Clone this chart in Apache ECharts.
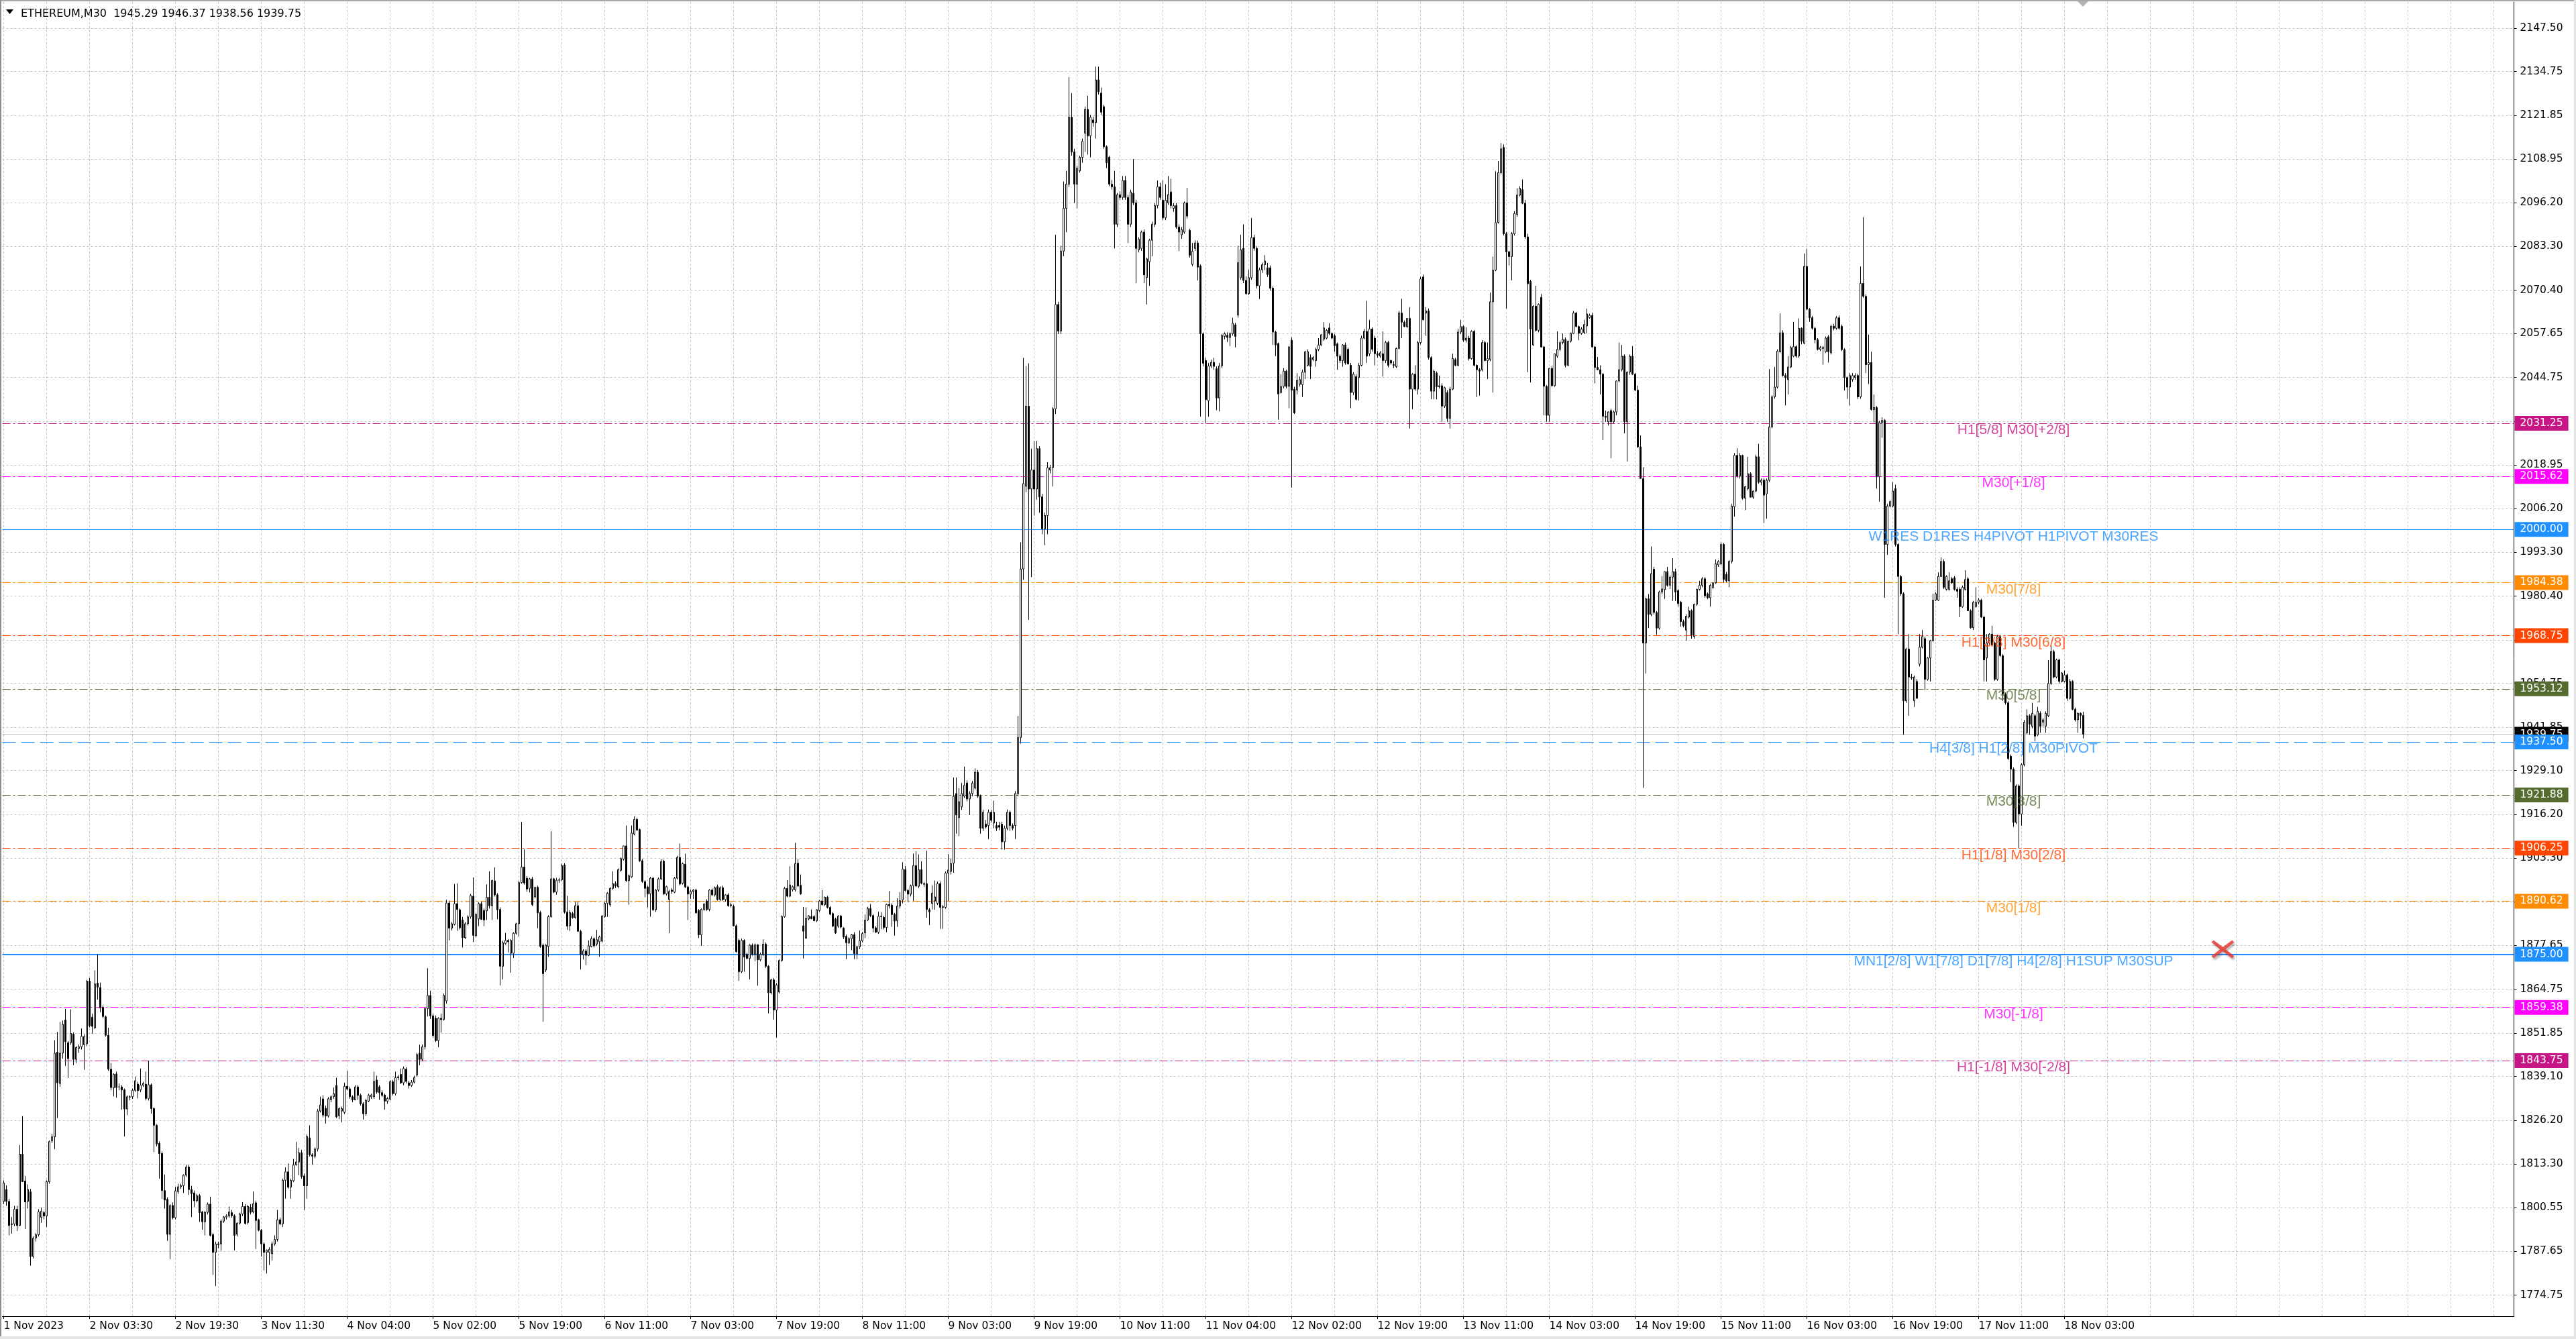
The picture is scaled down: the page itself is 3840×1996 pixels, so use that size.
<!DOCTYPE html>
<html><head><meta charset="utf-8">
<script src="https://cdn.jsdelivr.net/npm/echarts@6.0.0/dist/echarts.min.js"></script>
<style>html,body{margin:0;padding:0;background:#fff;overflow:hidden}#c{width:3840px;height:1996px}</style>
</head><body><div id="c"></div>
<script>
// ---- DATA: M30 bars as [open, high, low, close] ----
const seg1 = [
[1802.3,1808.5,1801.5,1807.7],[1805.8,1807,1801,1802.3],[1802.3,1803,1792.3,1795.2],[1795.5,1797.7,1792.8,1795.7],[1795.7,1801,1795,1800],
[1800,1801,1793.6,1795.2],[1795.2,1818.9,1795,1816.2],[1816.2,1827.4,1808,1808.1],[1808.3,1809.8,1794.2,1802.1],[1802.3,1807.3,1800.2,1805.8],
[1805.1,1806,1783.4,1786.1],[1786.1,1792,1785.5,1791.5],[1791.5,1793,1790.5,1792.5],[1792.5,1800,1792,1799.2],[1797.6,1800.5,1796,1799.4],
[1799,1799.5,1797,1798],[1798,1808.5,1794.8,1808.1],[1808.1,1820.2,1807.5,1819.9],[1820.1,1822.2,1819.5,1821.3],[1821.3,1849.7,1817.7,1845.9],
[1846.2,1852.2,1826.8,1837.2],[1837,1855.1,1836,1845.9],[1845.9,1855.5,1844.3,1854.4],[1855.7,1859,1842.2,1849.3],[1849,1849.5,1838.6,1844.3],
[1849,1858.8,1848.4,1851.7],[1851.5,1852,1842.4,1844.1],[1844.1,1848,1843,1847.6],[1847.3,1848.5,1846,1847.8],[1847.8,1853.2,1847,1850.9],
[1848.4,1851.5,1841,1850.8],[1848.7,1867.5,1848,1867.1],[1867.1,1868,1853.5,1854],[1856.5,1857.5,1851.7,1853.8],[1853.4,1870.3,1853,1866.3],
[1866.5,1875,1861.7,1865.3],[1865.2,1866.7,1858,1859.2],[1859.4,1860,1856.2,1856.7],[1856.6,1857,1850.8,1851.2],[1851.2,1853.4,1840.7,1841.2],
[1841.2,1843,1835,1835.8],[1835.7,1840,1833.2,1839.7],[1839.8,1840.5,1832.8,1835.8],[1836,1837,1835,1836],[1836,1836.5,1829.3,1835.1],
[1835.1,1835.5,1821.4,1829.5],[1829.5,1833.5,1827.7,1833.1],[1833.1,1833.5,1832,1833],[1833.1,1835.5,1832.5,1835],[1835,1839,1834.5,1837.8],
[1836.8,1837.5,1832.6,1834.9],[1835.1,1841.4,1834.5,1836.5],[1836.5,1837.5,1836,1837],[1836.8,1840.5,1832,1832.6],[1832.6,1843.7,1832,1836.6],
[1836.6,1837,1828.1,1829.6],[1829.6,1830,1816.8,1824.7],[1824.7,1825,1818.5,1819.2],[1819.4,1820,1809,1816.4],[1816.4,1817,1803.1,1805.5],
[1805.5,1810.2,1800.2,1802.7],[1802.9,1803.5,1790.7,1792.6],[1792.6,1801.5,1785.3,1801.1],[1801.1,1802,1797,1797.5],[1797.5,1806.5,1797,1805.4],
[1805.2,1807.5,1804.5,1806.6],[1806.6,1807.5,1806,1806.9],[1806.9,1810.3,1804.8,1810],[1810,1813.1,1809.5,1812.4],[1812.4,1813,1804.2,1805.8],
[1805.8,1806.9,1797.7,1804.6],[1804.8,1805.5,1800.6,1802.5],[1802.5,1804.5,1802,1804],[1804,1804.5,1796.3,1799],[1799.2,1799.5,1794,1796.3],
[1796.3,1799.5,1792.3,1799.1],[1799.1,1802,1798.5,1801.5],[1801.5,1803.7,1792,1792.3],[1792.5,1793,1780.7,1787.3],[1787.3,1790.5,1777.4,1789.8],
[1789.8,1790.5,1788.5,1789.6],[1789.8,1797,1787.8,1796.5],[1796.5,1798,1796,1797.7],[1797.7,1798.5,1797,1798],[1798,1800.8,1797.5,1799.2],
[1799,1799.8,1797.5,1798.1],[1798.1,1798.5,1787.9,1792.3],[1792.6,1796.2,1792,1795.9],[1795.9,1799,1795.5,1798.6],[1798.6,1802.1,1798,1800.8],
[1800.8,1801.5,1795.5,1795.8],[1796.1,1801.3,1795.5,1800.8],[1800.6,1801.5,1798.5,1799.1],[1799.2,1805.2,1798.8,1801.6],[1801.9,1802.5,1788.3,1796.7],
[1796.9,1797.2,1793.5,1793.8],[1793.8,1794.2,1786.1,1789.8],[1789.8,1790.3,1782,1787.3],[1787.3,1788.2,1781.1,1787.9],[1787.3,1788.8,1783.6,1788.2],
[1786.9,1790.5,1784.9,1789.8],[1789.8,1792.3,1789.3,1791.1],[1791.1,1799.8,1790.5,1796.9],[1796.9,1797.5,1795.3,1795.7],[1795.7,1809,1794.8,1808.5],
[1808.5,1812.3,1803.1,1811],[1811,1813.5,1806,1806.5],[1806.5,1809,1803.1,1808.5],[1808.4,1814.8,1808,1813.1],[1813.1,1819.8,1812.8,1813.9],
[1813.9,1818,1810,1816.6],[1816.6,1817.5,1809,1809.6],[1809.8,1810.5,1799.8,1806.9],[1806.9,1822,1803.1,1821.4],[1821,1824.7,1815.5,1816],
[1816,1816.5,1813.1,1815.6],[1815.6,1818.2,1815,1817.7],[1817.7,1829.5,1817,1828.9],[1828.9,1833.1,1828.5,1830.7],[1832.5,1833.5,1827,1827.7],
[1829.7,1830.5,1825.2,1827.4],[1827.4,1833,1827,1832.5],[1832.2,1833.5,1831.5,1833.1],[1833.1,1835.8,1832.5,1834],[1836.4,1838.7,1826.8,1827.2],
[1827.5,1830,1826.5,1829.6],[1828.9,1830.2,1825.6,1829.6],[1828.5,1837.2,1828,1836.2],[1836.2,1840.7,1835,1835.4],[1835.4,1836,1832.5,1833.1],
[1833.1,1833.5,1831.5,1832.2],[1832.2,1836.5,1832,1836],[1836,1836.5,1832.2,1833.5],[1833.5,1834,1830.5,1831],[1831,1831.5,1826.4,1828.1],
[1828.1,1832.5,1827.5,1832],[1831.8,1834,1831.5,1833.5],[1833.1,1834,1832.5,1833.6],[1833.1,1840.5,1832.5,1837.6],[1838,1839.3,1834,1834.5],
[1836,1836.5,1832.2,1834.3],[1834.3,1835,1833,1833.5],[1833.6,1834,1829.3,1831.8],[1831.8,1833,1831,1832.6],[1832.4,1838,1832,1837.5],
[1837.5,1838,1833.5,1834],[1834,1840.5,1833.5,1838.7],[1838.7,1839.5,1838,1838.9],[1839.7,1841.4,1836.8,1837.2],[1837.2,1842,1836.5,1841.4],
[1841.2,1841.8,1837,1837.6],[1837.2,1837.8,1835.5,1836.4],[1836.4,1838,1836,1837.4],[1837.4,1839.3,1837,1838.7],[1839.5,1846,1839,1845.5],
[1845.9,1848.4,1842.4,1844.1],[1844.1,1848.5,1843.5,1847.8],[1847.8,1859.5,1847,1859],[1859,1870.9,1856.7,1862.9]
];
const seg2 = [
[1862.9,1864.3,1856,1856.9],[1856.9,1857.5,1850.5,1851.1],[1856.2,1857,1849.2,1849.6],[1849.6,1856.5,1847.7,1856.2],[1856.2,1857.5,1852,1855.8],
[1855.8,1863.5,1855.5,1862.9],[1861.3,1891,1860.5,1890.1],[1890.1,1890.8,1879.1,1882.7],[1882.7,1884.5,1882,1884],[1883.8,1895.7,1883.5,1889.9],
[1889.9,1895.9,1881.9,1888.2],[1888.1,1888.5,1882.3,1882.8],[1885.1,1886,1877,1879.9],[1879.9,1884.5,1879.5,1884],[1884,1886.5,1883.5,1886],
[1886.1,1892.8,1885.5,1892.3],[1892.1,1897.6,1878.6,1880.6],[1880.5,1887,1880,1886.8],[1885.4,1890.3,1883.3,1889.9],[1889.9,1890.5,1885.1,1885.3],
[1887.9,1888.5,1883.3,1885.1],[1887.8,1895.6,1885.1,1891.8],[1891.8,1899.4,1888.5,1889.3],[1889.3,1897,1885.1,1896.7],[1896.6,1900.6,1892,1892.5],
[1892.5,1893,1885.3,1888.1],[1888.2,1888.8,1865.9,1871.5],[1871.5,1879,1867.6,1878.4],[1878.2,1881.3,1877.8,1879.1],[1879.1,1879.5,1875.6,1878.7],
[1875.3,1879.5,1869.6,1879.1],[1875.3,1881.5,1873.9,1881.2],[1881.2,1884.3,1880.8,1884],[1884,1896.5,1880.3,1896.1],[1896.1,1914,1895.8,1900.7],
[1900.7,1905.9,1895.5,1896],[1897.4,1898,1893.4,1894.2],[1894.4,1897.5,1893.2,1897.2],[1897.2,1897.8,1889.2,1889.6],[1891.9,1894.9,1891.5,1894.7],
[1894.7,1895.2,1882.7,1887.2],[1887.3,1887.8,1876.9,1877.3],[1877.7,1878.2,1855.2,1869.3],[1870.4,1878,1869.8,1877.7],[1877.3,1886.5,1874.3,1886.1],
[1886.1,1911.2,1885.8,1897.2],[1897.2,1897.5,1893,1893.3],[1893.3,1897.5,1892.5,1896.8],[1896.8,1897.5,1896,1896.9],[1896.9,1901.7,1896.5,1901.1],
[1901.3,1901.8,1887,1887.4],[1887.4,1892.2,1882.2,1883.3],[1883.4,1888,1881.9,1887.3],[1887,1887.5,1885.5,1885.8],[1885.8,1890.4,1885.5,1889.3],
[1889.3,1890.4,1881.6,1881.8],[1881.8,1882.2,1870.6,1875],[1874.9,1876.5,1873.5,1876],[1876,1876.5,1871.8,1874.7],[1874.7,1879.1,1874.5,1877.5],
[1877.3,1880.3,1877,1879.6],[1879.6,1880,1877,1877.5],[1878,1882.2,1877.5,1879.3],[1878.7,1880.5,1874.3,1880.1],[1878.9,1886.5,1878.5,1886.3],
[1886.1,1890.4,1885.8,1890],[1890,1893.3,1886,1893],[1889.6,1894.8,1889,1894.4],[1894.4,1899.4,1894,1895.8],[1895.8,1896.5,1894.5,1895.1],
[1894.9,1900.3,1894.5,1899.9],[1899.7,1903.5,1899.3,1903.2],[1903,1907,1902.6,1906.9],[1906.9,1912.9,1896.3,1896.7],[1896.7,1898.5,1889.6,1898.1],
[1897.8,1912.9,1897.5,1910.7],[1910.4,1915.6,1910,1914.7],[1914.7,1915.2,1911.3,1911.6],[1911.7,1912,1902.2,1902.5],[1902.5,1903,1896,1896.4],
[1896.4,1896.8,1891.8,1894.4],[1894.8,1895.2,1888.8,1892.8],[1892.8,1897.8,1886.1,1897.4],[1897.4,1897.8,1887.8,1888.1],[1888.1,1894.2,1887.5,1893.9],
[1893.9,1897.6,1893.5,1897.2],[1897.2,1903,1896.8,1902.3],[1902.4,1902.8,1892.5,1892.8],[1892.8,1895.2,1892.3,1894.9],[1891.1,1894,1881.2,1893.5],
[1893.9,1894.5,1892.8,1893.5],[1893.3,1897.8,1893,1897.4],[1897.4,1904,1897,1903.5],[1903.5,1907.6,1895.3,1895.7],[1895.9,1902,1895.5,1901.7],
[1901.5,1904.6,1894.5,1894.8],[1894.8,1895.2,1885.1,1892.7],[1892.7,1894,1891.3,1893.5],[1893.5,1894.2,1891.3,1893.9],[1893.9,1894.3,1887,1887.2],
[1887.9,1888.3,1879.8,1880.7],[1880.7,1888.5,1877.5,1888.2],[1888.2,1890,1887.8,1889.8],[1890.7,1891.2,1887.8,1888.2],[1888.2,1894.2,1887.7,1893.9],
[1893.9,1894.4,1892.2,1892.5],[1892.5,1895,1892,1894.6],[1894.9,1895.5,1890.8,1891.1],[1891.1,1895,1890.7,1894.6],[1894.6,1895.2,1890.8,1891.1],
[1891.1,1892.7,1890.5,1892.5],[1892.5,1893,1889,1889.3],[1889.3,1890.2,1888.8,1889.6],[1889.1,1889.6,1883.2,1883.4],[1883.4,1883.8,1875.5,1875.8],
[1879.1,1879.6,1867.2,1869.9],[1869.9,1879.6,1869.5,1879.1],[1879.1,1879.4,1869.9,1874.2],[1875,1875.5,1873.5,1873.8],[1873.8,1878,1867.6,1877.7],
[1877.7,1878.2,1874.6,1875],[1875,1878.2,1873,1877.8],[1877.8,1878,1865.8,1873.4],[1873.4,1875.5,1873,1875],[1874.9,1879.4,1874.5,1878],
[1878,1878.5,1871,1871.5],[1871.5,1871.8,1857.6,1863.7],[1863.7,1867.8,1863.2,1867.5],[1867.5,1868,1855.8,1858.6],[1858.6,1866.5,1850.5,1866],
[1863.9,1873.5,1863.5,1873.2],[1873.2,1886.5,1872.8,1886.1],[1886.1,1894.8,1885.8,1894.4],[1894.4,1896.8,1891.8,1892.1],[1892.1,1900.9,1891.8,1895.4],
[1894,1895.3,1893.5,1894.9],[1894,1907.8,1893.5,1901.7],[1901.8,1903,1894.8,1895.1],[1895.3,1898.5,1892.5,1892.8],[1883.4,1888.9,1873.8,1881.8],
[1879.8,1888.8,1879.5,1885.6],[1885.4,1886.5,1885,1886.3],[1886.1,1888.2,1885.3,1885.5],[1886.1,1886.5,1884.7,1884.9],[1884.9,1888.3,1884.5,1888.1],
[1887.9,1891,1887.5,1890.7],[1890.7,1893.9,1889.3,1889.6],[1889.6,1892,1889.2,1891.8],[1891.8,1892.2,1888.5,1888.8],[1888.8,1889.2,1886.5,1886.8],
[1887,1887.4,1883,1883.3],[1885.4,1885.8,1881,1881.3],[1883.3,1886.5,1882.8,1886.3],[1886.3,1886.6,1882.6,1883],[1882.7,1883,1879.5,1880.1]
];
const seg3 = [
[1880.3,1880.8,1873.6,1878.4],[1878.4,1880,1878,1879.6],[1879.6,1881,1876.2,1880.8],[1880.8,1881.5,1873.6,1875.2],[1875.2,1877.5,1873.6,1877.2],
[1877.2,1882,1876.5,1879],[1879,1881.6,1878.5,1881.1],[1881.3,1886.7,1879.8,1885.1],[1885.1,1889,1884.8,1888.5],[1888.5,1889.8,1886,1886.4],
[1886.4,1886.8,1881.5,1882.7],[1882.8,1883.3,1881.3,1881.5],[1881.5,1887.5,1881,1886.2],[1886.2,1887.4,1882.4,1886.1],[1885.9,1886.3,1882.3,1882.9],
[1882.9,1889.9,1881.5,1889.7],[1889.7,1893.6,1888.5,1889.3],[1889.5,1890,1883.1,1886.7],[1886.7,1887.2,1880.5,1884.8],[1884.9,1891.5,1883.1,1889.2],
[1889.2,1893.3,1888.5,1890.8],[1891,1902.1,1890,1900.1],[1899.9,1901,1893.5,1893.8],[1893.8,1894.2,1890.4,1892.7],[1892.7,1895.5,1892,1895.2],
[1895.2,1904.6,1890.7,1901.1],[1901.1,1905.3,1894.8,1895.1],[1895,1904.4,1894.5,1899.9],[1899.9,1902.4,1895.6,1895.9],[1895.8,1896.2,1894.8,1895.6],
[1895.8,1905.5,1885.8,1888.2],[1888.1,1888.6,1883.6,1887.5],[1890,1895.3,1888.2,1893],[1890.7,1896.7,1888.1,1891.9],[1890,1896.4,1889.5,1895.8],
[1895.8,1896.4,1882.5,1888.8],[1888.8,1889.5,1882.5,1889],[1888.8,1899.4,1888.4,1898.9],[1898.9,1904.5,1890.7,1899.8],[1899.4,1903.2,1898.5,1901.7]
];
const seg4 = [
[1901.8,1927,1899,1921.5],[1922.3,1927,1910.5,1916],[1915.2,1923.9,1909.8,1919.9],[1918.4,1925.4,1917.5,1922.3],[1921.5,1930.2,1921,1924.7],
[1925.4,1926.2,1920,1920.7],[1920.7,1923,1916,1922.3],[1922.3,1926,1921.5,1925.4],[1923.9,1929.7,1923.5,1928.6],[1928.6,1929.2,1921,1921.5],
[1921.5,1922,1910.5,1912.1],[1912.1,1917.5,1911.3,1916.8],[1913.3,1914.5,1912,1912.4],[1912.9,1917.6,1908.9,1916.8],[1916.8,1917.5,1913.8,1914.4],
[1913.6,1920.2,1912.1,1916.8],[1912.9,1914,1911.3,1912.1],[1912.9,1914,1911.5,1912.4],[1913.3,1914,1905.8,1908.1],[1908.1,1912.8,1905.8,1912.1],
[1912.1,1917.6,1911.5,1916.8],[1916.8,1917.3,1911.3,1912.9],[1912.9,1913.5,1911.5,1912.1],[1912.9,1923,1908.9,1922.3],[1922.3,1945.1,1921.5,1938.8],
[1938.8,1996.2,1937,1988.4],[1988.4,2050.5,1985.2,2013.5],[2012.7,2048.1,2011,2036.3],[2036.3,2048.9,1973.4,2011.9],[2011.9,2023.8,1986,2017.5],
[2017.5,2026.1,2004.1,2011.9],[2011.9,2026.1,2008.8,2023.8],[2023.8,2024.5,2004.9,2009.6],[2009.6,2010.5,1998.6,2000.2],[2000.2,2005,1995.4,2004.1],
[2004.1,2019.8,1998.6,2018.2],[2017.5,2019,2016.5,2018.2],[2018.2,2036,2012.7,2035.5],[2035.5,2086.7,2034,2066.2],[2066.2,2067,2057.5,2058.4],
[2058.4,2083.5,2057.5,2081.9],[2081.9,2102.4,2080.4,2094.5],[2094.5,2105.5,2087.5,2101.6],[2101.6,2133.1,2100.8,2121.3],[2121.3,2128.4,2110,2111.1],
[2111.1,2112,2096.1,2101.6],[2101.6,2107,2094.5,2106.3],[2105.5,2110,2105,2109.5],[2109.5,2115,2107.9,2114.2],[2116.6,2124.4,2111.1,2123.6],
[2123.6,2127.6,2110.3,2115.8],[2115.8,2122,2109.5,2121.3],[2120.5,2121.5,2118.5,2119.7],[2119.7,2136.2,2115,2132.3],[2132.3,2136.2,2128,2128.8],
[2128.4,2130,2122,2122.8],[2124.4,2125,2112,2112.6],[2112.6,2113,2106.3,2107.9],[2109.5,2110,2101,2101.6],[2101.6,2102.8,2100,2100.8],
[2100.8,2105.5,2082.7,2089.8],[2089.8,2099,2089,2098.5],[2098.5,2099.5,2097,2097.7],[2097.7,2104,2097,2102.7],[2102.7,2104,2097,2097.7],
[2097.7,2098.5,2084.3,2089.8],[2089.8,2100,2089,2099.3],[2098.9,2109,2095.5,2096.1],[2096.1,2097,2072.5,2082.7],[2082.3,2086,2081.5,2085.4],
[2082.7,2088,2082,2087.5],[2087.5,2088.3,2072.5,2074.9],[2074.1,2080,2066.2,2079.6],[2078.8,2085.5,2071.7,2085.1],[2085.1,2090.6,2080.4,2089.8],
[2089.8,2096,2089,2095.3],[2095.3,2102.7,2094.5,2100.8],[2100.8,2102,2097,2097.7],[2096.9,2102.7,2091,2091.7],[2091.7,2101.6,2091,2096.9],
[2096.1,2104,2095.5,2098.5],[2099.3,2103.2,2094.5,2095.3],[2094.5,2096,2093.5,2095.3],[2095.3,2096,2088.5,2089],[2089,2089.8,2081.9,2087.5],
[2086.7,2089,2085.5,2088.2],[2087.5,2096.5,2087,2096.1],[2096.1,2100.5,2091.5,2092.2],[2088,2088.5,2080,2080.7],[2078,2084.3,2077.5,2081.9],
[2082.7,2085.1,2082,2084.3],[2084.3,2085,2073.3,2077.2],[2077.5,2078,2033.2,2057.6],[2057.6,2058,2048,2048.9],[2049.7,2050.5,2031.3,2038.2],
[2037.9,2049,2033.2,2048.1],[2048.1,2050,2047.5,2049.2],[2049.2,2050.5,2047,2048],[2047.3,2048,2035.1,2038.7],[2038.7,2049,2034.8,2048.1],
[2048.1,2057.5,2047.5,2057.1],[2056.8,2058,2056,2057.6],[2057.1,2058,2055.2,2056.5],[2056.5,2058,2054,2057.6],[2057.6,2062.3,2057,2060.7],
[2060.2,2060.8,2053.6,2056.8],[2063.1,2083.5,2062.3,2078.5],[2074.1,2086.7,2073.5,2082.3],[2082.7,2089.8,2072.5,2073.3],[2073.3,2074.5,2069,2069.4],
[2069.4,2076.4,2069,2074.1],[2074.1,2091.7,2073.5,2085.9],[2085.9,2086.7,2082,2082.7],[2082.7,2083.3,2070.9,2071.7],[2071.7,2077,2067.8,2076.4]
];
const seg5 = [
[2076.4,2078.5,2075.5,2077.9],[2077.9,2080.7,2076.3,2079],[2077,2078.5,2074.3,2075],[2077,2077.7,2070.3,2071],[2071,2071.5,2054.3,2058.1],
[2058.1,2058.5,2051,2054.3],[2054.7,2055,2032.3,2039.9],[2040.3,2045.7,2040,2042.1],[2042.1,2047.5,2041.5,2046.6],[2046.6,2047,2041.5,2042.1],
[2042.1,2054,2035.7,2053.7],[2055.7,2056.5,2012.3,2041],[2041.3,2042,2034,2034.3],[2041,2046,2039.7,2043.9],[2042.7,2045,2042,2044.1],
[2042.6,2047,2039,2046.3],[2046.3,2052.5,2044.3,2052.3],[2048.3,2053,2048,2052.3],[2050.6,2051.5,2044.3,2048],[2050,2051,2049.5,2050.6],
[2049.7,2053.5,2047.9,2053],[2053,2056.3,2052.5,2054.3],[2054.3,2057.5,2054,2057.3],[2056,2061,2055.5,2059.3],[2056.3,2059,2056,2058.6],
[2059.3,2060.7,2057.2,2057.7],[2057.7,2058,2056,2056.3],[2057,2057.5,2052.3,2054.1],[2054.6,2055,2047,2051],[2051,2051.5,2049,2049.7],
[2049.7,2054.5,2047.9,2054.3],[2054.3,2055,2048.5,2049],[2053,2053.5,2048.5,2048.7],[2048.3,2049,2035.7,2040.3],[2040.3,2046.3,2039.5,2045.7],
[2045,2045.7,2038,2038.3],[2044.7,2049,2038,2048.3],[2048.3,2057,2048,2056.3],[2056.3,2059,2056,2058.3],[2058.3,2067.3,2049,2051],
[2051.7,2061.7,2051,2059],[2059,2059.5,2052.3,2053],[2056.3,2057,2048.3,2051.7],[2051.7,2052.5,2050.5,2051.3],[2051,2052.5,2050.5,2052],
[2051.7,2058.3,2045,2049.7],[2049.7,2055.5,2049,2055],[2055,2055.5,2047.7,2048.3],[2049.7,2050,2048.5,2049],[2048.5,2049.5,2047.5,2048.3],
[2047.9,2053.5,2047.5,2053.3],[2053.3,2064.3,2053,2063.7],[2063.7,2067.9,2056.3,2061],[2061,2061.5,2059.5,2059.7],[2059.7,2062,2059.3,2062.1],
[2062.1,2065.4,2029.7,2041.3],[2041.3,2046,2035.4,2045.7],[2045.7,2048.3,2040.8,2041.3],[2041.3,2055.5,2039.7,2055],[2055,2074.3,2054.5,2073.7],
[2074.3,2075,2061.5,2061.7],[2063.7,2065.4,2057,2064.3],[2064.3,2065,2050,2050.6],[2050.6,2051,2038.3,2040.7],[2040.7,2047,2038.3,2046.6],
[2046,2046.5,2038.3,2042],[2042,2045.3,2041.5,2042.3],[2042.3,2043,2031.7,2036.3],[2036.3,2042,2035.8,2041.7],[2040.3,2041,2031.7,2032.7],
[2032.7,2042,2029.7,2041.3],[2041.3,2051.7,2041,2050.3],[2050,2050.5,2048,2048.3],[2048.3,2059,2048,2058.1],[2058.1,2061.7,2057.5,2059.7],
[2059.7,2060,2055.2,2055.7],[2055.7,2059.5,2055,2056.3],[2056.3,2057,2049.7,2050.3],[2050.3,2058.6,2050,2058.3],[2058.3,2058.7,2048,2048.3],
[2048.3,2048.6,2039,2047],[2047,2047.5,2039.4,2046.6],[2047,2055.7,2046.5,2055],[2055,2055.5,2049.5,2049.7],[2049.7,2055,2044.3,2050.3],
[2050,2069.7,2049.5,2067],[2067,2080.3,2040.3,2076.3],[2076.3,2105.4,2076,2090.3],[2090.3,2108.4,2090,2105],[2105,2113.7,2104.5,2112],
[2112.4,2113.3,2086.5,2087],[2087,2087.5,2065,2081.7],[2081.7,2082,2077.7,2080.3],[2080.3,2087.5,2073.3,2087],[2087,2093.7,2086.5,2093],
[2092.7,2100.4,2092,2098.4],[2098.4,2101,2098,2100.4],[2100,2103,2095.7,2096],[2096,2097,2085.5,2086.1],[2086.1,2087,2046.3,2072.3],
[2073,2073.5,2043.3,2059],[2054.3,2066,2054,2065.7],[2065.7,2071.7,2058.2,2058.6],[2058.6,2066.5,2058,2066.3],[2068.3,2069.3,2053.5,2053.7],
[2053.7,2054,2033.6,2042.1],[2042.1,2042.5,2031.7,2033.6],[2033.6,2047.5,2031.7,2047.4],[2047.4,2048,2042,2042.3],[2042.3,2051.5,2042,2051.7],
[2051,2058.3,2050.5,2053],[2053,2055.5,2052.5,2055],[2055,2057.7,2054.5,2055.9],[2055.9,2056.5,2047.7,2048.3],[2048.3,2055.6,2048,2055.4],
[2055.4,2058,2055,2057.7],[2057.7,2064.3,2057.5,2063.7],[2063.7,2064,2059.5,2059.7],[2059.7,2060,2055.7,2057.7],[2057.7,2059.5,2057.3,2059],
[2058,2061.7,2057.5,2060.3],[2059.9,2065,2057.7,2063.4],[2062.3,2063.5,2062,2063],[2063,2063.7,2053.5,2053.7],[2053.7,2054,2043,2047.7],
[2047.7,2050.8,2046.8,2047],[2047,2048.3,2039.7,2045.7],[2045.7,2046,2026.3,2033.3],[2033.3,2035,2031.7,2033],[2031.7,2034.7,2030.6,2034.6],
[2035,2035.5,2021,2031.7],[2031.7,2035,2031.3,2034.6],[2034.6,2043.8,2033.6,2043.7],[2043.7,2055,2043.3,2047],[2047,2054.3,2046.5,2051],
[2051,2051.5,2028.3,2031.7],[2031.7,2046.5,2020,2046.3],[2046.3,2051.5,2045.5,2051],[2051,2054,2045.5,2045.7],[2045.7,2046,2040.7,2041],
[2041,2042.3,2024,2024.3],[2024.3,2027.7,2015,2015],[2015,2018.3,1924,1966.6],[1966.6,1980,1957.6,1979.6],[1979.6,1981,1971,1975],
[1975,1995,1974.5,1987],[1988.3,1989,1975,1975.6],[1975.6,1976,1969,1971],[1971,1982,1970.5,1981.6],[1981.6,1986.3,1981,1982.5],
[1982.3,1987.7,1979.6,1987.6],[1987.6,1989,1983.2,1983.6],[1983.6,1986.5,1982.5,1986],[1986,1991.6,1979,1987.6],[1987.6,1988.5,1979,1981.6]
];
const seg6 = [
[1982,1982.5,1977.3,1978.2],[1978.6,1979,1971.4,1972.9],[1972.9,1973.5,1971.2,1971.7],[1970.4,1975,1967.3,1974.5],[1974.2,1977.3,1973.8,1976.1],
[1976.1,1976.5,1967.9,1968.9],[1968.5,1978.2,1967.9,1978],[1978,1982.6,1977.5,1982.4],[1982.4,1984.9,1982,1983.6],[1983.6,1986,1983,1985.5],
[1985.5,1986,1979.9,1980.5],[1981.1,1981.5,1979.5,1979.9],[1979.9,1984,1977.3,1983.6],[1983,1984.5,1982.5,1984.3],[1984.3,1991.2,1984,1989.9],
[1989.6,1991,1989,1990.6],[1989.9,1996.2,1989.5,1995.6],[1995.6,1996,1984.3,1985.3],[1986.8,1987.5,1984.5,1984.9],[1984.9,1991,1983,1990.6],
[1990.6,2007.5,1990,2006.9],[2006.7,2022.5,2003.8,2021.8],[2021.8,2023.9,2015.2,2015.7],[2015.7,2022.5,2015,2021.8],[2021.8,2022,2008.8,2009.2],
[2009.2,2012.8,2005.7,2012.6],[2012,2021.4,2011.5,2016.4],[2016.4,2016.8,2009.5,2009.5],[2009.5,2011.5,2009,2011.3],[2011.3,2022,2011,2021.4],
[2021.4,2025.2,2013.5,2013.9],[2013.9,2015,2013,2014.5],[2014.5,2015,2001.9,2010.1],[2010.5,2015,2003.2,2014.5],[2014.5,2047.2,2014,2030.2],
[2030.2,2039.5,2029.8,2039],[2039,2047.8,2038.5,2041.9],[2041.9,2053,2041.5,2052.5],[2052.3,2063.6,2052,2057.9],[2057.9,2058.6,2045,2045.3],
[2045.3,2046,2036.5,2044.7],[2044.1,2051,2039.7,2047.8],[2047.8,2054,2047.5,2053.5],[2051,2061.1,2050.7,2053.8],[2053.8,2054.2,2050.5,2051],
[2051,2062.1,2050.5,2059.2],[2059.2,2059.5,2054.5,2055.4],[2054.8,2081.2,2054.5,2077.4],[2077.4,2082.5,2064.5,2064.8],[2064.8,2065.2,2061.1,2062.3],
[2062.3,2062.8,2058.8,2059.2],[2059.2,2059.6,2054.8,2055.8],[2055.8,2056.3,2052.7,2053],[2053,2054,2052.5,2053.5],[2053.5,2054,2048.5,2053.3],
[2052.3,2056.8,2052,2056.3],[2056.7,2057.2,2049.1,2052.3],[2052,2060.3,2051.5,2059.8],[2059.8,2060.5,2058.6,2059.2],[2059.2,2062.8,2058.8,2062.3],
[2062.3,2063,2058.8,2059.2],[2059.8,2060.3,2052.5,2052.9],[2052.9,2053.3,2040.9,2044.7],[2044.7,2045,2038.4,2041.9],[2041.9,2046,2036.5,2045.3],
[2044.1,2046,2043.5,2045.3],[2044.7,2046,2044,2045.3],[2045.3,2045.8,2038.4,2039],[2039,2077.4,2038.5,2072.4],[2072.4,2091.9,2068.2,2068.6],
[2068.6,2069.2,2046,2048.5],[2048.5,2057.3,2042.8,2049.1],[2049.1,2052.3,2035,2035.3],[2035.3,2039.7,2031.5,2035.9],[2035.9,2036.3,2012,2015.5],
[2015.5,2032,2008.2,2031.5],[2031.5,2033,2027,2032.1],[2032.1,2032.5,1979.9,1995.6],[1995.6,2007.5,1992.5,2006.9],[2006.9,2008.5,2006.5,2008.2],
[2006.9,2013.9,2006.5,2011.3],[2012,2013.2,1995,1995.6],[1995.6,1996,1969.2,1986.2],[1986.2,1986.6,1980.5,1981.1],[1981.1,1981.5,1939.6,1949.6],
[1949.6,1965.2,1949,1964.8],[1964.8,1969.2,1945.2,1956.6],[1956.6,1957.5,1955.8,1956.3],[1949.6,1957,1947.8,1956.6],[1955.3,1956,1950.3,1950.3],
[1960.4,1969.2,1959.7,1965.4],[1965.4,1970.4,1965,1968.5],[1967.9,1968.5,1952.8,1955.9],[1955.9,1962.5,1955.5,1962.2],[1962.2,1967.5,1955.3,1967.3],
[1967.3,1981.1,1967,1979.2],[1979.2,1981.5,1979,1981.1],[1979.2,1987.4,1979,1986.2],[1986.2,1991.8,1986,1990.6],[1990.6,1991.2,1982.5,1983],
[1982.4,1986.5,1982,1986.2],[1982.4,1987.4,1982,1984.9],[1985.5,1986,1984,1984.3],[1985.8,1986.3,1982,1982.4],[1982.4,1983,1979.9,1981.8],
[1982.4,1983,1974.2,1977.3],[1977.3,1983.5,1977,1983],[1982.4,1988,1982,1985.3],[1985.5,1986,1976,1976.1],[1976.1,1976.5,1970.8,1971.1],
[1971.1,1979,1970.4,1978.6],[1977.3,1983,1977,1978.6],[1978.6,1979.8,1978,1979.2],[1979.2,1979.6,1974,1974.2],[1974.2,1974.6,1955.3,1961.6],
[1962.2,1969.2,1955.3,1966.6],[1966.6,1969.5,1966,1969.2],[1969.2,1971.7,1965.5,1966],[1966.6,1967,1955.5,1955.9],[1955.9,1969,1955.5,1968.5],
[1968.5,1969,1962.5,1962.9],[1962.9,1963.3,1949.6,1951.5],[1951.5,1952,1948.5,1949],[1949,1949.5,1932.2,1932.6],[1933.3,1933.8,1925.7,1929.5],
[1929.5,1930,1912.5,1913.8],[1913.8,1925,1913.3,1924.5],[1924.5,1925,1906.2,1916.3],[1916.3,1931.2,1912.8,1930.8],[1930.8,1944,1930.3,1943.3],
[1940.2,1947.1,1939.8,1945.2],[1945.2,1945.7,1939.6,1942.7],[1942.1,1949,1941.5,1945.9],[1945.2,1945.7,1937.7,1939.2],[1939.6,1947.8,1939.2,1946.5],
[1945.9,1946.5,1940.2,1942.1],[1943.3,1944.5,1942,1944],[1942.1,1946.5,1940.2,1945.9],[1945.2,1961.6,1944.8,1954.7],[1954.7,1966,1954.3,1964.1],
[1964.1,1964.6,1956.2,1956.6],[1956.6,1962,1956.2,1961.6],[1961.6,1962,1954.7,1955.3],[1955.3,1958,1955,1957.8],[1955.3,1958.5,1955,1957.2],
[1957.2,1957.6,1949.6,1950.3],[1950.3,1956,1950,1955.3],[1955.3,1955.7,1946.8,1947.1],[1947.1,1947.6,1943.5,1944],[1944,1946.2,1940.2,1945.9],
[1945.9,1946.2,1941.5,1945.3],[1945.29,1946.37,1938.56,1939.75]
];

const timeLabels = ["1 Nov 2023","2 Nov 03:30","2 Nov 19:30","3 Nov 11:30","4 Nov 04:00","5 Nov 02:00","5 Nov 19:00","6 Nov 11:00","7 Nov 03:00","7 Nov 19:00","8 Nov 11:00","9 Nov 03:00","9 Nov 19:00","10 Nov 11:00","11 Nov 04:00","12 Nov 02:00","12 Nov 19:00","13 Nov 11:00","14 Nov 03:00","14 Nov 19:00","15 Nov 11:00","16 Nov 03:00","16 Nov 19:00","17 Nov 11:00","18 Nov 03:00"];
const priceTicks = [2147.50,2134.75,2121.85,2108.95,2096.20,2083.30,2070.40,2057.65,2044.75,2031.85,2018.95,2006.20,1993.30,1980.40,1967.50,1954.75,1941.85,1929.10,1916.20,1903.30,1890.40,1877.65,1864.75,1851.85,1839.10,1826.20,1813.30,1800.55,1787.65,1774.75];

const levelPrices = [2031.25,2015.62,2000.00,1984.38,1968.75,1953.12,1937.50,1921.88,1906.25,1890.62,1875.00,1859.38,1843.75];
const levelNames = ['H1[5/8] M30[+2/8]','M30[+1/8]','W1RES D1RES H4PIVOT H1PIVOT M30RES','M30[7/8]','H1[3/8] M30[6/8]','M30[5/8]','H4[3/8] H1[2/8] M30PIVOT','M30[3/8]','H1[1/8] M30[2/8]','M30[1/8]','MN1[2/8] W1[7/8] D1[7/8] H4[2/8] H1SUP M30SUP','M30[-1/8]','H1[-1/8] M30[-2/8]'];
const levelColors = ['#C71585','#FF00FF','#1E90FF','#FF8C00','#FF4500','#556B2F','#1E90FF','#556B2F','#FF4500','#FF8C00','#1E90FF','#FF00FF','#C71585'];
const levelStyles = ['dashdot','dashdot','solid','dashdot','dashdot','dashdot','dash','dashdot','dashdot','dashdot','solid2','dashdot','dashdot'];
const crossMark = [[827, 1876.5]];

// ---- BUILD ----
const bars = [].concat(seg1, seg2, seg3, seg4, seg5, seg6);
const N = 936;
const cats = Array.from({length: N}, (_, i) => String(i));
const candle = bars.map(b => {
  const o = b[0], c = b[3];
  return [o, c, Math.min(b[2], o, c), Math.max(b[1], o, c)];
});
const last = bars[bars.length - 1];
const AX_FONT = 'DejaVu Sans';

const gridLines = [];
priceTicks.forEach(v => gridLines.push({yAxis: v}));
for (let i = 0; i < N; i += 16) gridLines.push({xAxis: String(i)});

function styleOf(s, color) {
  if (s === 'solid') return {color, width: 1, type: 'solid'};
  if (s === 'solid2') return {color, width: 2, type: 'solid'};
  if (s === 'dash') return {color, width: 1, type: [20, 8]};
  return {color, width: 1, type: [12, 4, 3, 4]};
}
const tagLabel = (txt, bg) => ({
  show: true, position: 'end', distance: 1, formatter: txt,
  backgroundColor: bg, color: '#fff', padding: [4, 8, 3, 8],
  fontFamily: AX_FONT, fontSize: 15.5, lineHeight: 15
});
const levelLines = [{
  yAxis: last[3], lineStyle: {color: '#c0c0c0', width: 1, type: 'solid'},
  label: tagLabel(last[3].toFixed(2), '#000')
}];
levelPrices.forEach((p, i) => levelLines.push({
  yAxis: p, lineStyle: styleOf(levelStyles[i], levelColors[i]),
  label: tagLabel(p.toFixed(2), levelColors[i])
}));

const chart = echarts.init(document.getElementById('c'), null, {renderer: 'canvas', width: 3840, height: 1996});
chart.setOption({
  animation: false,
  backgroundColor: '#ffffff',
  grid: {left: 3.5, right: 92.5, top: 3, bottom: 34, containLabel: false},
  xAxis: {
    type: 'category', data: cats, boundaryGap: true,
    axisLine: {show: true, lineStyle: {color: '#000', width: 1}},
    axisTick: {show: true, alignWithLabel: true, length: 4, lineStyle: {color: '#000'},
      interval: (i) => i % 32 === 0 && i <= 768},
    axisLabel: {show: true, interval: (i) => i % 32 === 0 && i <= 768,
      formatter: (v, i) => timeLabels[i / 32] || '', align: 'left', margin: 7,
      color: '#000', fontFamily: AX_FONT, fontSize: 15.5},
    splitLine: {show: false}
  },
  yAxis: {
    type: 'value', position: 'right', min: 1768.53, max: 2155.2,
    axisLine: {show: true, lineStyle: {color: '#000', width: 1}},
    axisTick: {show: true, customValues: priceTicks, length: 4, lineStyle: {color: '#000'}},
    axisLabel: {show: true, customValues: priceTicks, formatter: v => v.toFixed(2), margin: 9,
      color: '#000', fontFamily: AX_FONT, fontSize: 15.5},
    splitLine: {show: false}
  },
  graphic: [
    {type: 'rect', shape: {x: 0, y: 0, width: 3840, height: 2}, style: {fill: '#a8a8a8'}, silent: true},
    {type: 'rect', shape: {x: 0, y: 0, width: 2, height: 1996}, style: {fill: '#8c8c8c'}, silent: true},
    {type: 'rect', shape: {x: 3837, y: 0, width: 3, height: 1996}, style: {fill: '#e2e2e2'}, silent: true},
    {type: 'rect', shape: {x: 0, y: 1992, width: 3840, height: 4}, style: {fill: '#e6e6e6'}, silent: true},
    {type: 'polygon', shape: {points: [[3097, 2], [3113, 2], [3105, 10]]}, style: {fill: '#b4b4b4'}, silent: true},
    {type: 'polygon', shape: {points: [[9, 14], [20, 14], [14.5, 21]]}, style: {fill: '#000'}, silent: true},
    {type: 'text', x: 31, y: 21, silent: true, style: {
      text: 'ETHEREUM,M30  ' + [last[0], last[1], last[2], last[3]].map(v => v.toFixed(2)).join(' '),
      fill: '#000', font: '16px "DejaVu Sans"', verticalAlign: 'middle'}}
  ],
  series: [
    {type: 'line', data: [], z: 1, silent: true,
      markLine: {silent: true, symbol: ['none', 'none'], animation: false, label: {show: false},
        lineStyle: {color: '#c4c4c4', width: 1, type: [3, 3]}, data: gridLines}},
    {type: 'line', data: [], z: 3, silent: true,
      markLine: {silent: true, symbol: ['none', 'none'], animation: false, data: levelLines}},
    {type: 'candlestick', data: candle, z: 5, barWidth: 2, large: false, progressive: 0, silent: true,
      itemStyle: {color: '#ffffff', color0: '#000000', borderColor: '#000000', borderColor0: '#000000', borderWidth: 1}},
    {type: 'scatter', z: 10, silent: true, symbolSize: 0,
      data: levelPrices.map((p, i) => ({value: [749, p],
        label: {show: true, position: 'bottom', distance: 0, formatter: levelNames[i], color: levelColors[i],
          fontFamily: 'Liberation Sans', fontSize: 21, lineHeight: 21}}))},
    {type: 'scatter', z: 11, silent: true, data: crossMark,
      symbol: 'path://M3,0 L16,10 L29,0 L32,3 L20,13 L32,23 L29,26 L16,16 L3,26 L0,23 L12,13 L0,3 Z',
      symbolSize: [34, 27],
      itemStyle: {color: '#e8322c', shadowColor: 'rgba(0,0,0,0.35)', shadowBlur: 3, shadowOffsetX: 2, shadowOffsetY: 3}}
  ]
});
</script>
</body></html>
